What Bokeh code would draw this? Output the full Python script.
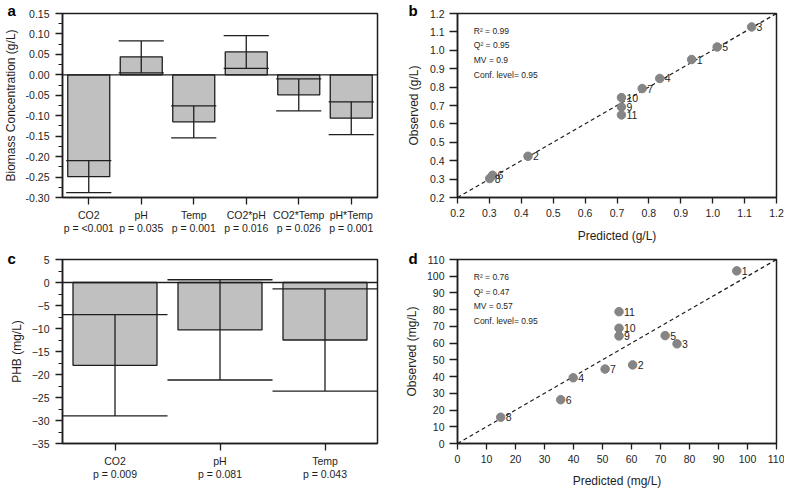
from bokeh.plotting import figure
from bokeh.layouts import gridplot
from bokeh.models import FixedTicker, NumeralTickFormatter, Label, Range1d, FactorRange, Span
from bokeh.embed import file_html
from bokeh.resources import INLINE
from bokeh.core.properties import value

FONT = "Liberation Sans"
INK = "#1e1e1e"
BAR_FILL = "#c0c0c0"
DOT = "#858585"

# ---------------- data ----------------
# panel a: effects on biomass concentration (g/L)
a_terms = ["CO2", "pH", "Temp", "CO2*pH", "CO2*Temp", "pH*Temp"]
a_pvalues = ["p = <0.001", "p = 0.035", "p = 0.001", "p = 0.016", "p = 0.026", "p = 0.001"]
a_effects = [-0.249, 0.044, -0.115, 0.056, -0.049, -0.106]
a_errors = [0.039, 0.039, 0.039, 0.040, 0.039, 0.040]
a_yticks = [-0.30, -0.25, -0.20, -0.15, -0.10, -0.05, 0.00, 0.05, 0.10, 0.15]

# panel b: observed vs predicted biomass (g/L)
b_runs = ["1", "2", "3", "4", "5", "6", "7", "8", "9", "10", "11"]
b_predicted = [0.934, 0.421, 1.122, 0.834, 1.014, 0.310, 0.779, 0.301, 0.714, 0.714, 0.714]
b_observed = [0.950, 0.424, 1.127, 0.847, 1.018, 0.321, 0.792, 0.303, 0.692, 0.743, 0.649]
b_ticks = [0.2, 0.3, 0.4, 0.5, 0.6, 0.7, 0.8, 0.9, 1.0, 1.1, 1.2]
b_stats = ["R\u00b2 = 0.99", "Q\u00b2 = 0.95", "MV = 0.9", "Conf. level= 0.95"]

# panel c: effects on PHB (mg/L)
c_terms = ["CO2", "pH", "Temp"]
c_pvalues = ["p = 0.009", "p = 0.081", "p = 0.043"]
c_effects = [-18.0, -10.3, -12.5]
c_errors = [11.0, 10.9, 11.1]
c_yticks = [-35, -30, -25, -20, -15, -10, -5, 0, 5]

# panel d: observed vs predicted PHB (mg/L)
d_runs = ["1", "2", "3", "4", "5", "6", "7", "8", "9", "10", "11"]
d_predicted = [96.3, 60.4, 75.7, 39.9, 71.6, 35.6, 50.9, 14.9, 55.7, 55.7, 55.7]
d_observed = [103.2, 47.0, 59.6, 39.3, 64.5, 26.2, 44.5, 15.7, 64.3, 68.9, 78.8]
d_ticks = [0, 10, 20, 30, 40, 50, 60, 70, 80, 90, 100, 110]
d_stats = ["R\u00b2 = 0.76", "Q\u00b2 = 0.47", "MV = 0.57", "Conf. level= 0.95"]

W_LEFT, W_RIGHT = 392, 392
H_TOP, H_BOTTOM = 248, 242
TOP_TOP, TOP_BOTTOM = 13, 11


def base_style(p, ylabel, xlabel=None):
    p.grid.visible = False
    p.outline_line_color = INK
    p.outline_line_width = 1.5
    p.background_fill_color = "white"
    p.border_fill_color = "white"
    for ax in p.axis:
        ax.axis_line_color = INK
        ax.axis_line_width = 1.5
        ax.major_tick_line_color = INK
        ax.major_tick_line_width = 1.3
        ax.minor_tick_line_color = INK
        ax.minor_tick_line_width = 1.2
        ax.major_tick_in = 0
        ax.minor_tick_in = 0
        ax.minor_tick_out = 4
        ax.major_label_text_font = FONT
        ax.major_label_text_font_size = "10.5px"
        ax.major_label_text_color = INK
        ax.axis_label_text_font = FONT
        ax.axis_label_text_font_size = "12px"
        ax.axis_label_text_font_style = "normal"
        ax.axis_label_text_color = INK
    p.yaxis.axis_label = ylabel
    if xlabel:
        p.xaxis.axis_label = xlabel


def letter(p, txt, offset, standoff):
    p.title.text = txt
    p.title.align = "left"
    p.title.vertical_align = "bottom"
    p.title.offset = offset
    p.title.standoff = standoff
    p.title.text_font = FONT
    p.title.text_font_size = "15px"
    p.title.text_font_style = "bold"
    p.title.text_color = "black"


def bar_panel(terms, pvalues, effects, errors, yticks, minor_step, fmt, ylabel,
              height, top, frame_h, cap_half, letter_txt, letter_pos):
    factors = [f"{t}\n{pv}" for t, pv in zip(terms, pvalues)]
    p = figure(x_range=FactorRange(factors=factors), y_range=Range1d(yticks[0], yticks[-1]),
               width=W_LEFT, height=height, output_backend="svg", toolbar_location=None,
               min_border_left=58, min_border_right=W_LEFT - 58 - 319,
               min_border_top=top, min_border_bottom=height - top - frame_h)
    base_style(p, ylabel)
    p.yaxis.ticker = FixedTicker(ticks=yticks,
                                 minor_ticks=[t + minor_step for t in yticks[:-1]])
    if fmt:
        p.yaxis.formatter = NumeralTickFormatter(format=fmt)
    p.yaxis.major_tick_out = 7
    p.yaxis.major_label_standoff = 6
    p.yaxis.axis_label_standoff = 5
    p.xaxis.major_tick_out = 7
    p.xaxis.major_label_standoff = 4
    p.xaxis.major_label_text_line_height = 1.15

    p.vbar(x=factors, top=effects, bottom=0, width=0.8, fill_color=BAR_FILL,
           line_color=INK, line_width=1.3)
    p.add_layout(Span(location=0, dimension="width", line_color=INK, line_width=1.3))
    lower = [e - s for e, s in zip(effects, errors)]
    upper = [e + s for e, s in zip(effects, errors)]
    centers = [i + 0.5 for i in range(len(factors))]
    p.segment(x0=factors, y0=lower, x1=factors, y1=upper, line_color=INK, line_width=1.3)
    for ends in (lower, upper):
        p.segment(x0=[c - cap_half for c in centers], y0=ends,
                  x1=[c + cap_half for c in centers], y1=ends,
                  line_color=INK, line_width=1.3)
    letter(p, letter_txt, *letter_pos)
    return p


def scatter_panel(pred, obs, runs, ticks, fmt, xlabel, ylabel, stats, stats_x, stats_y,
                  height, top, frame_h, y_standoff, x_standoff, letter_txt, letter_pos):
    p = figure(x_range=Range1d(ticks[0], ticks[-1]), y_range=Range1d(ticks[0], ticks[-1]),
               width=W_RIGHT, height=height, output_backend="svg", toolbar_location=None,
               min_border_left=65, min_border_right=W_RIGHT - 65 - 319,
               min_border_top=top, min_border_bottom=height - top - frame_h)
    base_style(p, ylabel, xlabel)
    p.xaxis.ticker = FixedTicker(ticks=ticks, minor_ticks=[])
    p.yaxis.ticker = FixedTicker(ticks=ticks, minor_ticks=[])
    if fmt:
        p.xaxis.formatter = NumeralTickFormatter(format=fmt)
        p.yaxis.formatter = NumeralTickFormatter(format=fmt)
    p.yaxis.major_tick_out = 8
    p.yaxis.major_label_standoff = 5
    p.yaxis.axis_label_standoff = y_standoff
    p.xaxis.major_tick_out = 6
    p.xaxis.major_label_standoff = 5
    p.xaxis.axis_label_standoff = x_standoff
    lim = [ticks[0], ticks[-1]]
    p.line(lim, lim, line_color=INK, line_width=1.2, line_dash="4 3")
    p.scatter(pred, obs, size=8.5, fill_color=DOT, line_color=DOT)
    p.text(pred, obs, text=runs, x_offset=5, text_baseline="middle", text_align="left",
           text_font=value(FONT), text_font_size="10.5px", text_color=INK)
    for s, yy in zip(stats, stats_y):
        p.add_layout(Label(x=stats_x, y=yy, text=s, text_font=FONT, text_font_size="8.5px",
                           text_color=INK, text_baseline="middle"))
    letter(p, letter_txt, *letter_pos)
    return p


pa = bar_panel(a_terms, a_pvalues, a_effects, a_errors, a_yticks, 0.025, "0.00",
               "Biomass Concentration (g/L)", H_TOP, TOP_TOP, 184, 0.43, "a", (-55, -10))
pc = bar_panel(c_terms, c_pvalues, c_effects, c_errors, c_yticks, 2.5, None,
               "PHB (mg/L)", H_BOTTOM, TOP_BOTTOM, 185, 0.5, "c", (-55, -14))
pb = scatter_panel(b_predicted, b_observed, b_runs, b_ticks, "0.0", "Predicted (g/L)",
                   "Observed (g/L)", b_stats, 0.251, [1.105, 1.028, 0.946, 0.865],
                   H_TOP, TOP_TOP, 184, 6, 9, "b", (-49, -10))
pd_ = scatter_panel(d_predicted, d_observed, d_runs, d_ticks, None, "Predicted (mg/L)",
                    "Observed (mg/L)", d_stats, 5.6, [99.6, 90.7, 82.2, 73.3],
                    H_BOTTOM, TOP_BOTTOM, 185, 5, 8, "d", (-49, -14))

grid = gridplot([[pa, pb], [pc, pd_]], toolbar_location=None)

open("out.html", "w").write(file_html(grid, INLINE))
